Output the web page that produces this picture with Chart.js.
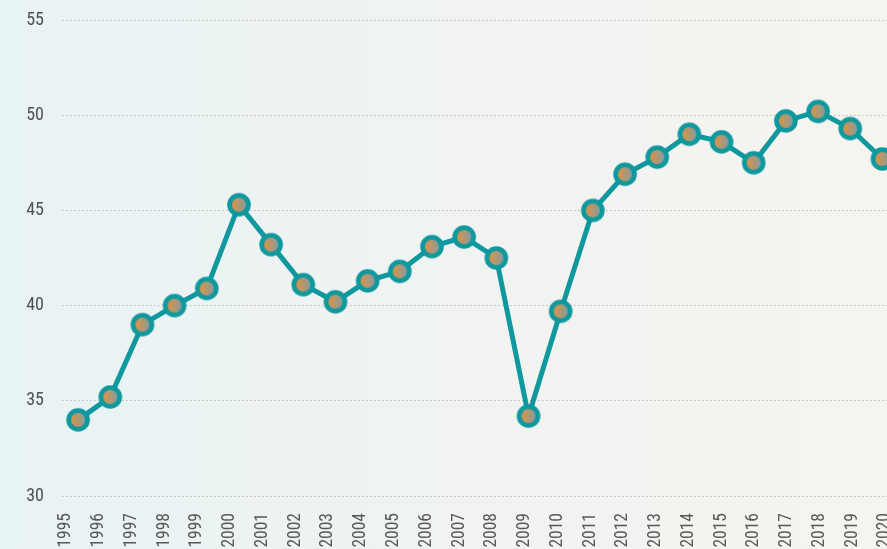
<!DOCTYPE html>
<html>
<head>
<meta charset="utf-8">
<script src="https://cdn.jsdelivr.net/npm/chart.js@4.4.1/dist/chart.umd.min.js"></script>
<style>
  html, body { margin: 0; padding: 0; overflow: hidden; width: 887px; height: 549px; }
  body { background: linear-gradient(to right, #e8f3f4 0%, #f0f3f2 50%, #f6f4ef 100%); }
  #wrap { position: absolute; left: 0; top: 0; width: 900px; height: 549px; }
</style>
</head>
<body>
<div id="wrap"><canvas id="c" width="900" height="549"></canvas></div>
<script>
const years = ['1995','1996','1997','1998','1999','2000','2001','2002','2003','2004','2005','2006','2007','2008','2009','2010','2011','2012','2013','2014','2015','2016','2017','2018','2019','2020'];
const values = [34.0, 35.2, 39.0, 40.0, 40.9, 45.3, 43.2, 41.1, 40.2, 41.3, 41.8, 43.1, 43.6, 42.5, 34.2, 39.7, 45.0, 46.9, 47.8, 49.0, 48.6, 47.5, 49.7, 50.2, 49.3, 47.7];
const yTicks = [30, 35, 40, 45, 50, 55];
const yearTicks = years.map(Number);

const TEAL = '#0f989e';
const XFONT = { family: 'Roboto, sans-serif', weight: 'condensed', size: 17.5 };
const YFONT = { family: 'Roboto, sans-serif', weight: 'condensed', size: 18 };

function makeMarker() {
  const s = 26, c = document.createElement('canvas');
  c.width = s; c.height = s;
  const g = c.getContext('2d');
  g.beginPath(); g.arc(s/2, s/2, 11.8, 0, Math.PI*2); g.fillStyle = TEAL; g.fill();
  const grad = g.createLinearGradient(s/2-7, 0, s/2+7, 0);
  grad.addColorStop(0, '#dc9347'); grad.addColorStop(1, '#8a9c9c');
  g.beginPath(); g.arc(s/2, s/2, 7, 0, Math.PI*2); g.fillStyle = grad; g.fill();
  return c;
}
const marker = makeMarker();

new Chart(document.getElementById('c'), {
  type: 'line',
  data: {
    labels: years,
    datasets: [{
      data: values,
      xAxisID: 'x',
      yAxisID: 'y',
      borderColor: TEAL,
      borderWidth: 5,
      tension: 0,
      pointStyle: marker,
      pointRadius: 12,
      pointHoverRadius: 12
    }]
  },
  options: {
    responsive: false,
    animation: false,
    events: [],
    layout: { autoPadding: false, padding: { top: 20, right: 1.5, left: 0, bottom: 0 } },
    plugins: { legend: { display: false }, tooltip: { enabled: false } },
    scales: {
      x: {
        type: 'category',
        offset: true,
        display: false
      },
      xl: {
        type: 'linear',
        position: 'bottom',
        min: 1994.878,
        max: 2020.41,
        afterBuildTicks: s => { s.ticks = yearTicks.map(v => ({ value: v })); },
        grid: { display: false, drawTicks: false },
        border: { display: false },
        ticks: {
          minRotation: 90, maxRotation: 90, autoSkip: false, padding: 17,
          color: '#585858', font: XFONT,
          callback: v => String(v)
        },
        afterFit: s => { s.height = 53; s.paddingLeft = 0; s.paddingRight = 0; s.paddingTop = 0; s.paddingBottom = 0; }
      },
      y: {
        min: 30, max: 55,
        afterBuildTicks: s => { s.ticks = yTicks.map(v => ({ value: v })); },
        grid: { color: '#bbbbbb', lineWidth: 1, drawTicks: false },
        border: { display: false, dash: [1.5, 2.5] },
        ticks: { padding: 18, color: '#505050', font: YFONT },
        afterFit: s => { s.width = 62; s.paddingTop = 0; s.paddingBottom = 0; s.paddingLeft = 0; s.paddingRight = 0; }
      }
    }
  }
});
</script>
</body>
</html>
